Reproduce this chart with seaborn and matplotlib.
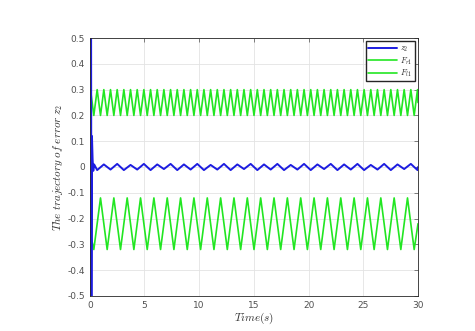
import numpy as np
import pandas as pd
import matplotlib
matplotlib.use('Agg')
import matplotlib.pyplot as plt
import seaborn as sns

# ── data ───────────────────────────────────────────────────────────────
# extremum times of the oscillations (half period of the fast bound ~0.305 s)
T_HALF = 0.305
t_grid = [round(0.065 + T_HALF * k, 3) for k in range(99)]

# upper bound F_r1: value at each grid time (peak / trough alternating)
fu_start = 0.26
fu_vals = [0.30, 0.20, 0.30, 0.20, 0.30, 0.20, 0.30, 0.20, 0.30, 0.20,
           0.30, 0.20, 0.30, 0.20, 0.30, 0.20, 0.30, 0.20, 0.30, 0.20,
           0.30, 0.20, 0.30, 0.20, 0.30, 0.20, 0.30, 0.20, 0.30, 0.20,
           0.30, 0.20, 0.30, 0.20, 0.30, 0.20, 0.30, 0.20, 0.30, 0.20,
           0.30, 0.20, 0.30, 0.20, 0.30, 0.20, 0.30, 0.20, 0.30, 0.20,
           0.30, 0.20, 0.30, 0.20, 0.30, 0.20, 0.30, 0.20, 0.30, 0.20,
           0.30, 0.20, 0.30, 0.20, 0.30, 0.20, 0.30, 0.20, 0.30, 0.20,
           0.30, 0.20, 0.30, 0.20, 0.30, 0.20, 0.30, 0.20, 0.30, 0.20,
           0.30, 0.20, 0.30, 0.20, 0.30, 0.20, 0.30, 0.20, 0.30, 0.20,
           0.30, 0.20, 0.30, 0.20, 0.30, 0.20, 0.30, 0.20, 0.30]

# lower bound F_l1: troughs/peaks at every second grid time (odd k)
fl_start = -0.25
fl_vals = [-0.32, -0.12, -0.32, -0.12, -0.32, -0.12, -0.32, -0.12, -0.32, -0.12,
           -0.32, -0.12, -0.32, -0.12, -0.32, -0.12, -0.32, -0.12, -0.32, -0.12,
           -0.32, -0.12, -0.32, -0.12, -0.32, -0.12, -0.32, -0.12, -0.32, -0.12,
           -0.32, -0.12, -0.32, -0.12, -0.32, -0.12, -0.32, -0.12, -0.32, -0.12,
           -0.32, -0.12, -0.32, -0.12, -0.32, -0.12, -0.32, -0.12, -0.32]

# error z2: initial transient then small oscillation at even grid times (k >= 2)
z_start_t = [0.12, 0.15, 0.2, 0.26, 0.32, 0.4]
z_start_v = [0.6, -0.6, 0.12, 0.03, -0.015, 0.01]
z_vals = [-0.012, 0.010, -0.010, 0.012, -0.012, 0.008, -0.010, 0.012, -0.012, 0.010,
          -0.008, 0.012, -0.012, 0.010, -0.010, 0.012, -0.012, 0.008, -0.010, 0.012,
          -0.012, 0.010, -0.008, 0.012, -0.012, 0.010, -0.010, 0.012, -0.012, 0.008,
          -0.010, 0.012, -0.012, 0.010, -0.008, 0.012, -0.012, 0.010, -0.010, 0.012,
          -0.012, 0.008, -0.010, 0.012, -0.012, 0.010, -0.008, 0.012, -0.012]

t_end = 30.0

fu = pd.DataFrame({'t': [0.0] + t_grid + [t_end],
                   'v': [fu_start] + fu_vals + [0.25]})
fl = pd.DataFrame({'t': [0.0] + t_grid[1::2] + [t_end],
                   'v': [fl_start] + fl_vals + [-0.22]})
zz = pd.DataFrame({'t': z_start_t + t_grid[2::2] + [t_end],
                   'v': z_start_v + z_vals + [0.0]})

# ── plot ───────────────────────────────────────────────────────────────
sns.set_style('white')
plt.rcParams['mathtext.fontset'] = 'cm'

fig = plt.figure(figsize=(4.75, 3.31), dpi=100)
ax = fig.add_axes([0.189, 0.106, 0.691, 0.779])

green = '#22e622'
blue = '#1c1ce0'
sns.lineplot(data=fu, x='t', y='v', ax=ax, color=green, lw=1.2, sort=False,
             estimator=None, label='$F_{r1}$')
sns.lineplot(data=fl, x='t', y='v', ax=ax, color=green, lw=1.2, sort=False,
             estimator=None, label='$F_{l1}$')
sns.lineplot(data=zz, x='t', y='v', ax=ax, color=blue, lw=1.4, sort=False,
             estimator=None, label='$z_2$')

ax.set_xlim(0, 30)
ax.set_ylim(-0.5, 0.5)
ax.set_xticks(np.arange(0, 31, 5))
ax.set_yticks(np.round(np.arange(-0.5, 0.51, 0.1), 1))
ax.set_yticklabels(['-0.5', '-0.4', '-0.3', '-0.2', '-0.1', '0',
                    '0.1', '0.2', '0.3', '0.4', '0.5'])
ax.grid(True, color='#e3e3e3', lw=0.6)
ax.tick_params(direction='in', length=3, labelsize=6.5, colors='#505050',
               width=0.5, top=True, right=True)
for s in ax.spines.values():
    s.set_color('#262626')
    s.set_linewidth(0.6)

ax.set_xlabel(r'$Time(s)$', fontsize=8, color='#303030', labelpad=1)
ax.set_ylabel(r'$The\ trajectory\ of\ error\ z_2$', fontsize=8,
              color='#303030', labelpad=2)

h, l = ax.get_legend_handles_labels()
order = [2, 0, 1]
ax.legend([h[i] for i in order], [l[i] for i in order], loc='upper right',
          fontsize=6, frameon=True, fancybox=False, edgecolor='#262626',
          framealpha=1, handlelength=3.4, borderpad=0.25, labelspacing=0.15,
          borderaxespad=0.4, handletextpad=0.4)

fig.savefig('out.png', dpi=100)
